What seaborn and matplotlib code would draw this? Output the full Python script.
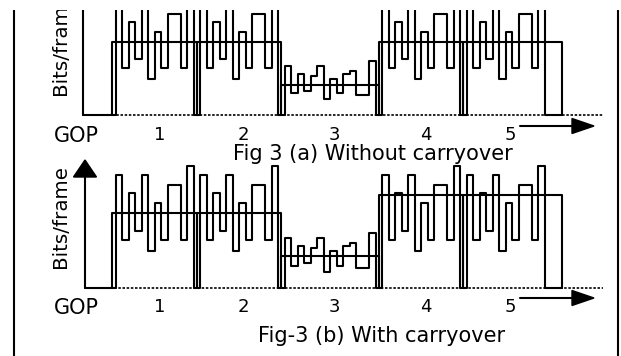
import numpy as np
import pandas as pd
import matplotlib
matplotlib.use('Agg')
import matplotlib.pyplot as plt
import seaborn as sns
from matplotlib.patches import Polygon

# ---------------- data ----------------
gop_labels = ['1', '2', '3', '4', '5']
gop_scene = ['active', 'active', 'static', 'active', 'active']
frame_bits_active = [113, 48, 95, 57, 113, 37, 85, 48, 103, 103, 48, 122]
frame_bits_static = [50, 22, 42, 25, 40, 50, 16, 37, 22, 42, 45, 20, 20, 55]
gop_budget_a = [74, 74, 31, 74, 74]   # without carryover
gop_budget_b = [75, 75, 32, 93, 93]   # with carryover
captions = ['Fig 3 (a) Without carryover', 'Fig-3 (b) With carryover']
y_label = 'Bits/frame'
x_label = 'GOP'

# ---------------- style / layout ----------------
sns.set_theme(style='white')
plt.rcParams['font.family'] = ['DejaVu Sans']

W, H = 621, 356
SLOT = 6.5          # px per frame slot
X0 = 112            # start of first GOP
LW = 1.5
frames_of = {'active': frame_bits_active, 'static': frame_bits_static}

fig = plt.figure(figsize=(W / 100, H / 100), dpi=100)
ax = fig.add_axes([0, 0, 1, (H - 10) / H])


def layout():
    starts = []
    x = X0
    for s in gop_scene:
        starts.append(x)
        x += (len(frames_of[s]) + 1) * SLOT
    return starts, x


starts, gop_end = layout()
box_end = gop_end + 2.3 * SLOT


def draw_panel(base, scale, budget, axis_x, arrow_y, caption, cap_x, cap_y,
               num_y, gop_y, ylab_y, vertical_arrow):
    # dotted time axis
    ax.plot([axis_x, 603], [base, base], ls=(0, (1.5, 1.0)), lw=1.2,
            color='black', zorder=1)
    # frame waveform
    wx, wy = [starts[0]], [0]
    for g, s in enumerate(gop_scene):
        fr = frames_of[s]
        xs = starts[g] + 0.6 * SLOT
        wx.append(xs); wy.append(0)
        for i, v in enumerate(fr):
            wx += [xs + i * SLOT, xs + (i + 1) * SLOT]
            wy += [v, v]
        wx.append(xs + len(fr) * SLOT); wy.append(0)
    wx.append(box_end); wy.append(0)
    dfw = pd.DataFrame({'x': wx, 'y': base - scale * np.array(wy, float)})
    sns.lineplot(data=dfw, x='x', y='y', sort=False, estimator=None,
                 color='black', lw=LW, ax=ax, zorder=3)
    # GOP budget boxes
    rows = [(axis_x, 0, 'lead'), (starts[0], 0, 'lead')]
    for g in range(len(gop_scene)):
        L = starts[g]
        R = starts[g + 1] if g + 1 < len(starts) else box_end
        h = budget[g]
        for px, py in [(L, 0), (L, h), (R, h), (R, 0)]:
            rows.append((px, py, f'g{g}'))
    dfb = pd.DataFrame(rows, columns=['x', 'v', 'seg'])
    dfb['y'] = base - scale * dfb['v']
    sns.lineplot(data=dfb, x='x', y='y', units='seg', sort=False,
                 estimator=None, color='black', lw=LW, ax=ax, zorder=3)
    # vertical axis
    if vertical_arrow:
        ax.plot([axis_x, axis_x], [base, 176], color='black', lw=LW)
        ax.add_patch(Polygon([[axis_x - 11.5, 177], [axis_x + 11.5, 177],
                              [axis_x, 160]], closed=True, color='black'))
    else:
        ax.plot([axis_x, axis_x], [base, 0], color='black', lw=LW)
    # horizontal arrow
    ax.plot([520, 575], [arrow_y, arrow_y], color='black', lw=LW)
    ax.add_patch(Polygon([[572, arrow_y - 7.5], [572, arrow_y + 7.5],
                          [594, arrow_y]], closed=True, color='black'))
    # texts
    ax.text(60, ylab_y, y_label, rotation=90, ha='center', va='bottom',
            fontsize=14.3, color='black', clip_on=True)
    ax.text(76, gop_y, x_label, ha='center', va='baseline', fontsize=15,
            color='black')
    for g, lab in enumerate(gop_labels):
        L = starts[g]
        R = starts[g + 1] if g + 1 < len(starts) else gop_end
        ax.text((L + R) / 2 + 5, num_y, lab, ha='center', va='baseline',
                fontsize=13, color='black')
    ax.text(cap_x, cap_y, caption, ha='center', va='baseline',
            fontsize=15, color='black')


draw_panel(base=115, scale=0.98, budget=gop_budget_a, axis_x=83, arrow_y=126,
           caption=captions[0], cap_x=373, cap_y=159.5, num_y=140.5, gop_y=142,
           ylab_y=95, vertical_arrow=False)
draw_panel(base=288, scale=1.0, budget=gop_budget_b, axis_x=85, arrow_y=298,
           caption=captions[1], cap_x=382, cap_y=342, num_y=312, gop_y=314,
           ylab_y=268, vertical_arrow=True)

# page frame lines
ax.plot([14, 14], [0, H], color='black', lw=LW)
ax.plot([618, 618], [0, H], color='black', lw=LW)

ax.set_xlim(0, W)
ax.set_ylim(H, 10)
ax.axis('off')
fig.savefig('out.png', dpi=100)
